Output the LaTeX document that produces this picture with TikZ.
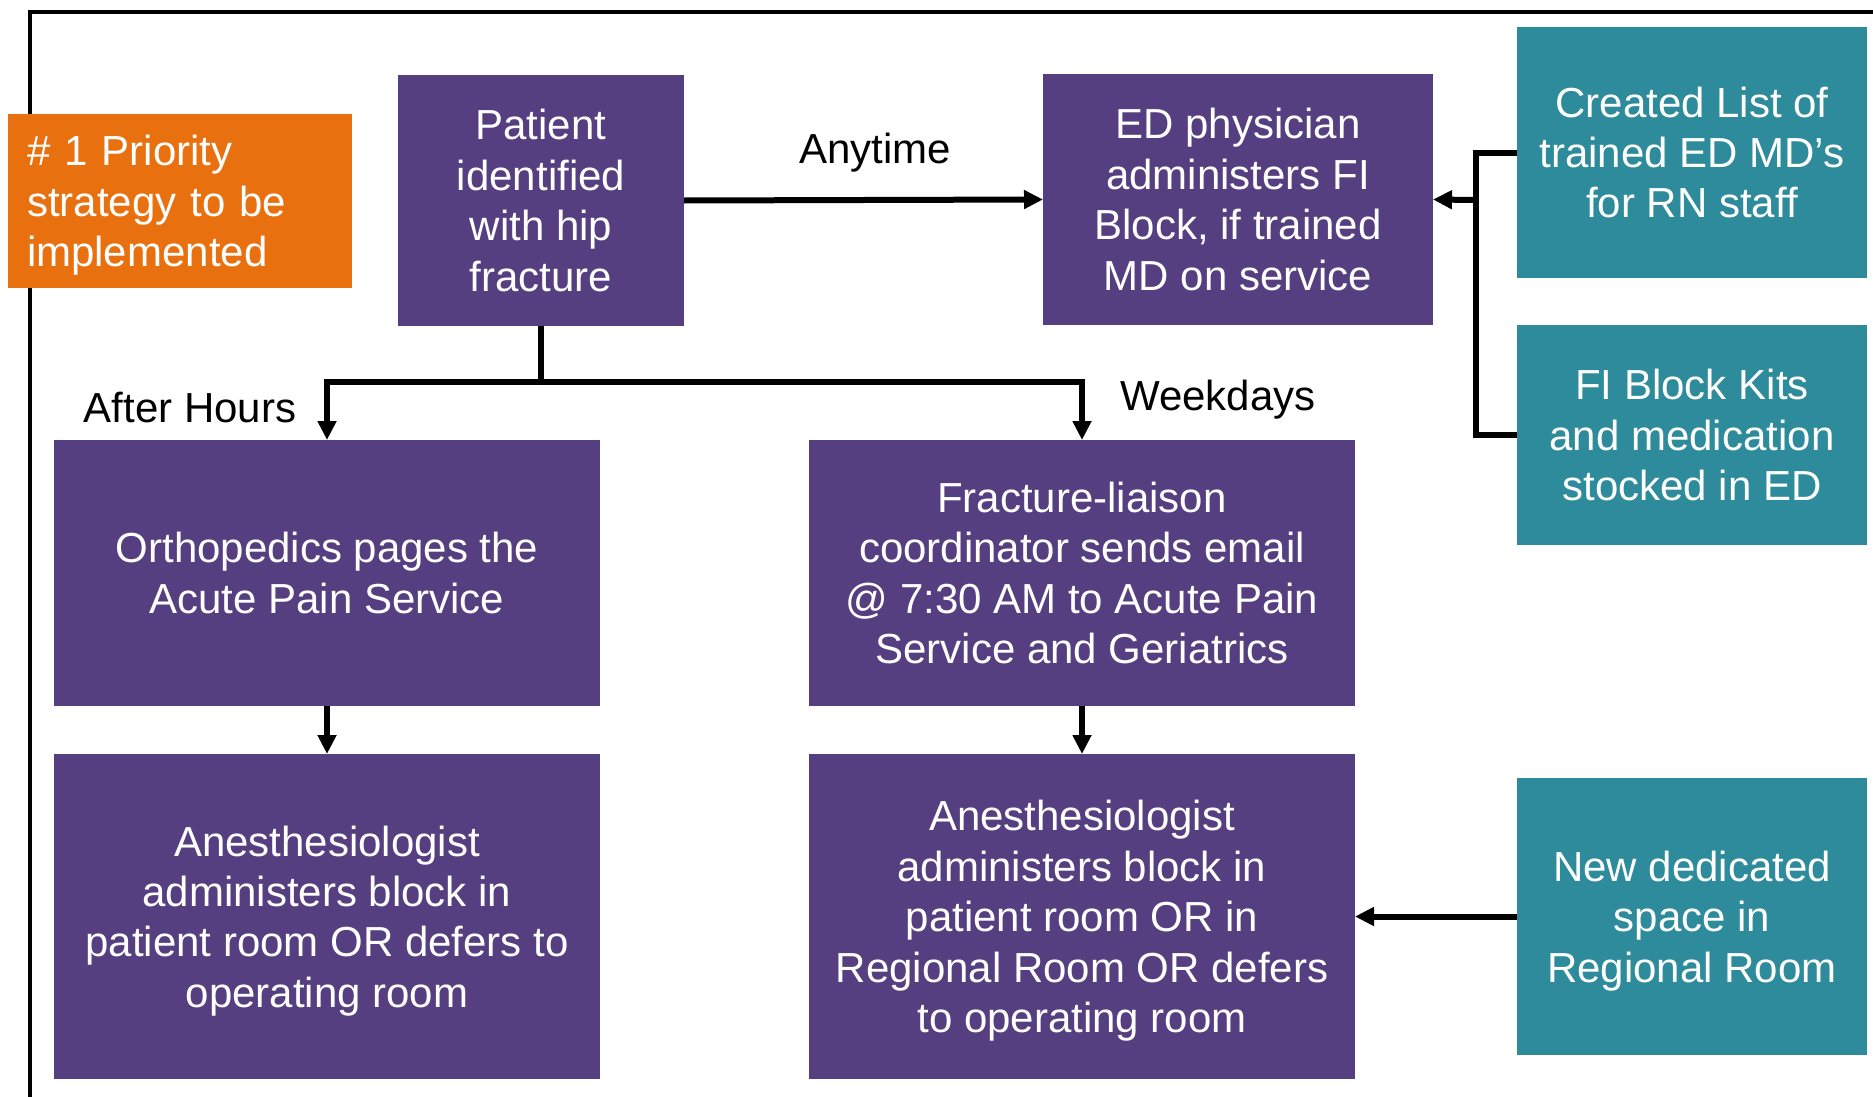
\documentclass[tikz,border=0pt]{standalone}
\usepackage{fontspec}
\setmainfont{Liberation Sans}
\usetikzlibrary{arrows.meta}

\definecolor{stepviolet}{HTML}{553F80}
\definecolor{supportteal}{HTML}{2E8B9B}
\definecolor{priorityorange}{HTML}{E9700F}

\begin{document}
\begin{tikzpicture}[x=0.5pt, y=-0.5pt,
  every node/.style={font=\fontsize{21pt}{25.2pt}\selectfont, inner sep=0pt, outer sep=0pt},
  stepbox/.style={fill=stepviolet, text=white, align=center},
  supportbox/.style={fill=supportteal, text=white, align=center,
    minimum width=175pt},
  prioritybox/.style={fill=priorityorange, text=white, align=left,
    minimum width=172pt, minimum height=87pt, text width=153pt},
  wire/.style={line width=3pt, draw=black},
  flow/.style={wire, -{Triangle[length=9.5pt, width=9pt]}},
  tag/.style={text=black, anchor=base}]

\useasboundingbox (0,0) rectangle (1873,1097);

% outer frame
\draw[line width=1.75pt] (30,1120) -- (30,12) -- (1900,12);

% legend
\node[prioritybox] (prio) at (180,201)
  {\# 1 Priority\\strategy to be\\\smash{implemented}};

% main pathway
\node[stepbox, minimum width=143pt, minimum height=125.5pt] (pat) at (541,200.5)
  {Patient\\identified\\with hip\\fracture};
\node[stepbox, minimum width=195pt, minimum height=125.5pt] (edmd) at (1238,199.5)
  {ED physician\\administers FI\\Block, if trained\\MD on service};
\node[stepbox, minimum width=273pt, minimum height=133pt] (ortho) at (327,573)
  {Orthopedics pages the\\Acute Pain Service};
\node[stepbox, minimum width=273pt, minimum height=133pt] (flc) at (1082,573)
  {Fracture-liaison\\coordinator sends email\\@ 7:30 AM to Acute Pain\\Service and Geriatrics};
\node[stepbox, minimum width=273pt, minimum height=162.5pt] (anesL) at (327,916.5)
  {Anesthesiologist\\administers block in\\patient room OR defers to\\\smash{operating room}};
\node[stepbox, minimum width=273pt, minimum height=162.5pt] (anesR) at (1082,916.5)
  {Anesthesiologist\\administers block in\\patient room OR in\\Regional Room OR defers\\\smash{to operating room}};

% supporting measures
\node[supportbox, minimum height=125.5pt] (list) at (1692,152.5)
  {Created List of\\trained ED MD’s\\for RN staff};
\node[supportbox, minimum height=110pt] (kits) at (1692,435)
  {FI Block Kits\\and medication\\stocked in ED};
\node[supportbox, minimum height=138.5pt] (room) at (1692,916.5)
  {New dedicated\\space in\\\smash{Regional Room}};

% connectors
\draw[flow] (pat.east) -- (edmd.west);
\node[tag] (tAny) at (875,163) {Anytime};

\coordinate (fork) at (541,382);
\draw[wire] (pat.south) -- (fork);
\draw[flow] (fork) -| (ortho.north);
\draw[flow] (fork) -| (flc.north);
\node[tag] (tAfter) at (190,422) {After Hours};
\node[tag] (tWeek) at (1218,410) {Weekdays};

\draw[flow] (ortho.south) -- (anesL.north);
\draw[flow] (flc.south) -- (anesR.north);

\coordinate (bus) at (1476,200);
\draw[wire] (list.west) -| (bus |- kits.west) -- (kits.west);
\draw[flow] (bus) -- (edmd.east);

\draw[flow] (room.west) -- (anesR.east);

\end{tikzpicture}
\end{document}
